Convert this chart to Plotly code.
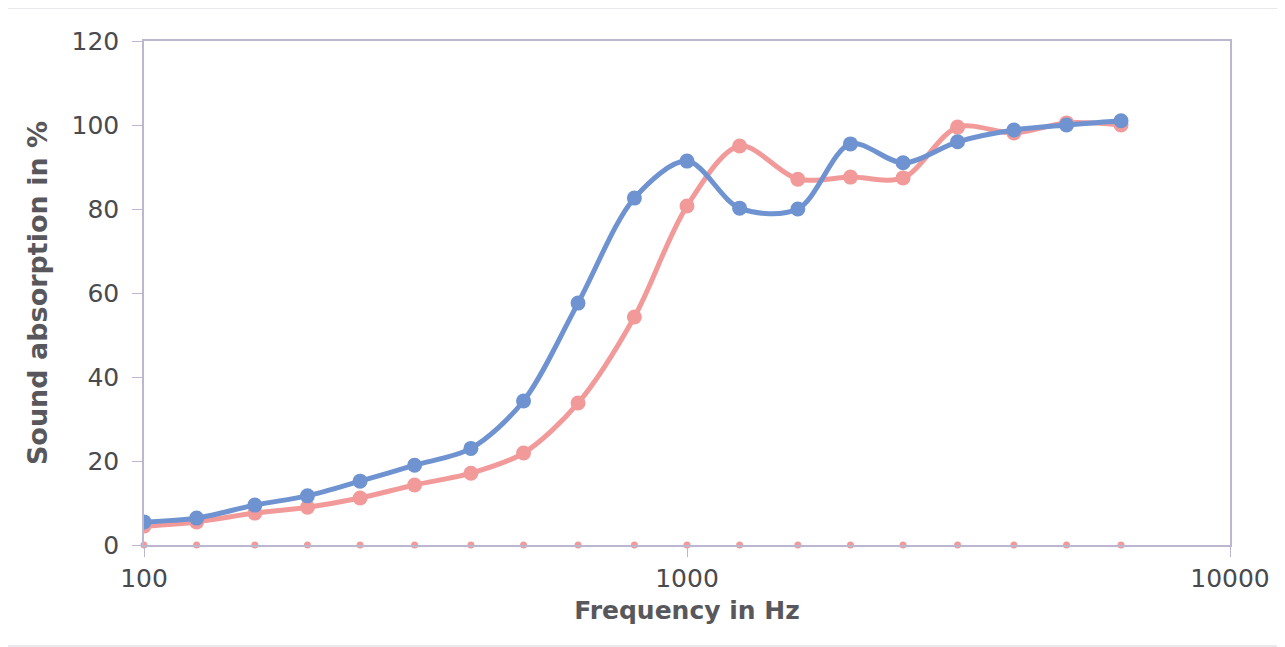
import plotly.graph_objects as go

freq = [100, 125, 160, 200, 250, 315, 400, 500, 630, 800, 1000, 1250, 1600, 2000, 2500, 3150, 4000, 5000, 6300]
blue_vals = [5.5, 6.4, 9.5, 11.7, 15.2, 19.0, 23.0, 34.3, 57.6, 82.6, 91.4, 80.2, 80.0, 95.5, 91.0, 96.0, 98.8, 100.0, 101.0]
pink_vals = [4.5, 5.5, 7.6, 9.0, 11.2, 14.3, 17.1, 21.9, 33.8, 54.3, 80.7, 95.0, 87.1, 87.6, 87.4, 99.5, 98.1, 100.5, 100.0]
zero_vals = [0] * len(freq)

x_ticks = [100, 1000, 10000]
y_ticks = [0, 20, 40, 60, 80, 100, 120]

BLUE = "#6e93d0"
PINK = "#f29a9a"
AXIS = "#bcb6cf"
TXT = "#4a4a4e"

fig = go.Figure()
fig.add_trace(go.Scatter(x=freq, y=zero_vals, mode="markers",
                         marker=dict(color=PINK, size=7), showlegend=False, cliponaxis=False))
fig.add_trace(go.Scatter(x=freq, y=pink_vals, mode="lines+markers",
                         line=dict(color=PINK, width=5, shape="spline", smoothing=0.9),
                         marker=dict(color=PINK, size=15), showlegend=False))
fig.add_trace(go.Scatter(x=freq, y=blue_vals, mode="lines+markers",
                         line=dict(color=BLUE, width=5, shape="spline", smoothing=0.9),
                         marker=dict(color=BLUE, size=15), showlegend=False))

fig.update_layout(
    width=1285, height=647,
    margin=dict(l=136, r=63, t=33, b=110),
    paper_bgcolor="white", plot_bgcolor="white",
    font=dict(family="DejaVu Sans, Verdana, sans-serif", color=TXT),
    xaxis=dict(type="log", range=[2, 4], tickvals=x_ticks, ticktext=[str(v) for v in x_ticks],
               showgrid=False, zeroline=False, showline=True, linecolor=AXIS, linewidth=1.5,
               mirror=True, ticks="outside", ticklen=10, tickcolor=AXIS,
               tickfont=dict(size=25, color=TXT),
               title=dict(text="<b>Frequency in Hz</b>", font=dict(size=25, color="#58585c"), standoff=10)),
    yaxis=dict(range=[0, 120], tickvals=y_ticks, showgrid=False, zeroline=False,
               showline=True, linecolor=AXIS, linewidth=1.5, mirror=True,
               ticks="outside", ticklen=10, tickcolor=AXIS, ticklabelstandoff=8,
               tickfont=dict(size=25, color=TXT),
               title=dict(text="<b>Sound absorption in %</b>", font=dict(size=27, color="#58585c"), standoff=16)),
    shapes=[dict(type="rect", xref="paper", yref="paper",
                 x0=(5 - 143) / 1086, x1=(1283 - 143) / 1086,
                 y0=(544 - 645) / 504, y1=(544 - 7) / 504,
                 line=dict(color="#d4d2dc", width=1), layer="below")],
)

fig.write_html("out.html")
